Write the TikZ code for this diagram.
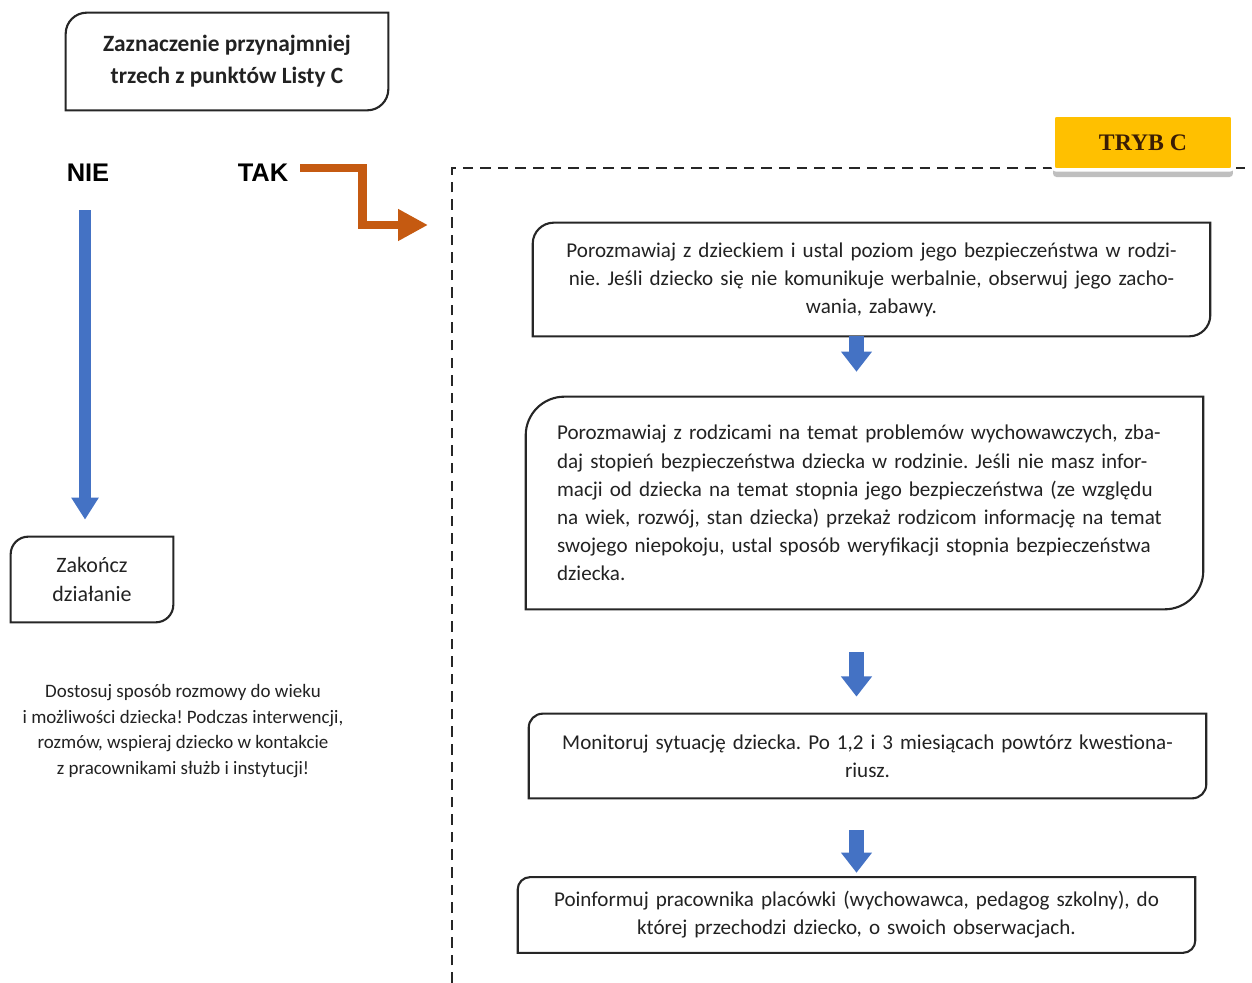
\documentclass[tikz,border=0pt]{standalone}
\usepackage{fontspec}
\setmainfont{Carlito}
\newfontfamily\headfont{Liberation Sans}
\newfontfamily\trybfont{Liberation Serif}
\usetikzlibrary{arrows.meta,positioning,shadows}
\definecolor{inkcol}{HTML}{222222}
\definecolor{stepblue}{HTML}{4472C4}
\definecolor{takorange}{HTML}{C55A11}
\definecolor{trybgold}{HTML}{FFC000}
\definecolor{trybtext}{HTML}{3A1D05}
\frenchspacing

% outline with rounded top-left and bottom-right corners
\newcommand{\diagframe}[2]{%
  \draw[boxline] (#1.south west) -- ([yshift=-#2]#1.north west)
    arc[start angle=180, end angle=90, radius=#2] -- (#1.north east)
    -- ([yshift=#2]#1.south east)
    arc[start angle=0, end angle=-90, radius=#2] -- cycle;}

\begin{document}
\begin{tikzpicture}[
    x=0.02cm, y=0.02cm,
    boxline/.style={draw=black!85, line width=1.2pt},
    stepbox/.style={minimum width=13.54cm, text width=12.6cm, align=center,
      inner sep=0pt, text=inkcol, font=\fontsize{12}{16}\selectfont},
    answer/.style={inner sep=0pt, text=black, font=\headfont\bfseries\fontsize{14.5}{17}\selectfont},
    blockarrow/.style={stepblue, line width=8pt, -{Triangle[width=17pt, length=11.5pt]}},
  ]
  \useasboundingbox (0,0) rectangle (1252,-983);

  % Question and answers
  \node[minimum width=6.44cm, minimum height=1.94cm, align=center, text=inkcol,
    font=\bfseries\fontsize{13.3}{18.2}\selectfont] (lista) at (227,-61.5)
    {Zaznaczenie przynajmniej\\trzech z punktów Listy C};
  \diagframe{lista}{12pt}

  \node[answer] (nie) at (88,-173) {NIE};
  \node[answer] (tak) at (263,-173) {TAK};

  % NIE branch
  \node[minimum width=3.24cm, minimum height=1.7cm, align=center, text=inkcol,
    font=\fontsize{12.5}{16}\selectfont] (koniec) at (92,-579.5)
    {Zakończ\\działanie};
  \diagframe{koniec}{10pt}

  \draw[stepblue, line width=6.8pt, -{Triangle[width=14.8pt, length=12.5pt]},
    shorten <=16pt, shorten >=9.7pt]
    ([xshift=-1.7pt]nie.south) -- ([xshift=-1.7pt]nie.south |- koniec.north);

  \node[align=center, text=inkcol, font=\fontsize{10.8}{14.5}\selectfont] (uwaga)
    at (183,-731)
    {Dostosuj sposób rozmowy do wieku\\
     i możliwości dziecka! Podczas interwencji,\\
     rozmów, wspieraj dziecko w kontakcie\\
     z pracownikami służb i instytucji!};

  % TAK branch frame
  \draw[black!85, line width=0.9pt, dash pattern=on 6pt off 4pt]
    (452,-983) -- (452,-168) -- (1245,-168);

  \coordinate (trybin) at (428,-225);
  \draw[takorange, line width=5.1pt, line join=miter,
    -{Triangle[width=17pt, length=17pt]}]
    ([shift={(11.5,5)}]tak.east) -- ++(62,0) -- ++(0,-57) -- (trybin);

  \node[fill=trybgold, draw=white, line width=2pt, rounded corners=2pt,
    minimum width=3.6cm, minimum height=1.1cm, text=trybtext,
    font=\trybfont\bfseries\fontsize{13.5}{16}\selectfont,
    drop shadow={shadow xshift=0pt, shadow yshift=-4pt, fill=black!50, opacity=0.5}]
    (tryb) at (1143,-142.5) {TRYB C};

  % Steps
  \node[stepbox, minimum height=2.26cm] (rozmowa) at (871.5,-279.5)
    {Porozmawiaj z dzieckiem i ustal poziom jego bezpieczeństwa w rodzi-\\
     nie. Jeśli dziecko się nie komunikuje werbalnie, obserwuj jego zacho-\\
     wania, zabawy.};
  \diagframe{rozmowa}{12pt}

  \node[stepbox, minimum height=4.24cm, text width=12.3cm, align=left] (rodzice)
    at (864.5,-503)
    {Porozmawiaj z rodzicami na temat problemów wychowawczych, zba-\\
     daj stopień bezpieczeństwa dziecka w rodzinie. Jeśli nie masz infor-\\
     macji od dziecka na temat stopnia jego bezpieczeństwa (ze względu\\
     na wiek, rozwój, stan dziecka) przekaż rodzicom informację na temat\\
     swojego niepokoju, ustal sposób weryfikacji stopnia bezpieczeństwa\\
     dziecka.};
  \diagframe{rodzice}{22pt}

  \node[stepbox, minimum height=1.68cm] (monitor) at (867.5,-756)
    {Monitoruj sytuację dziecka. Po 1,2 i 3 miesiącach powtórz kwestiona-\\
     riusz.};
  \diagframe{monitor}{8pt}

  \node[stepbox, minimum height=1.5cm] (placowka) at (856.5,-915)
    {Poinformuj pracownika placówki (wychowawca, pedagog szkolny), do\\
     której przechodzi dziecko, o swoich obserwacjach.};
  \diagframe{placowka}{7pt}

  % Step arrows
  \draw[blockarrow, shorten >=14.2pt]
    (rozmowa.south -| placowka) -- (rodzice.north -| placowka);
  \draw[blockarrow, shorten <=24.5pt, shorten >=9.7pt]
    (rodzice.south -| placowka) -- (monitor.north -| placowka);
  \draw[blockarrow, shorten <=18.2pt, shorten >=2.5pt]
    (monitor.south -| placowka) -- (placowka.north);

\end{tikzpicture}
\end{document}
